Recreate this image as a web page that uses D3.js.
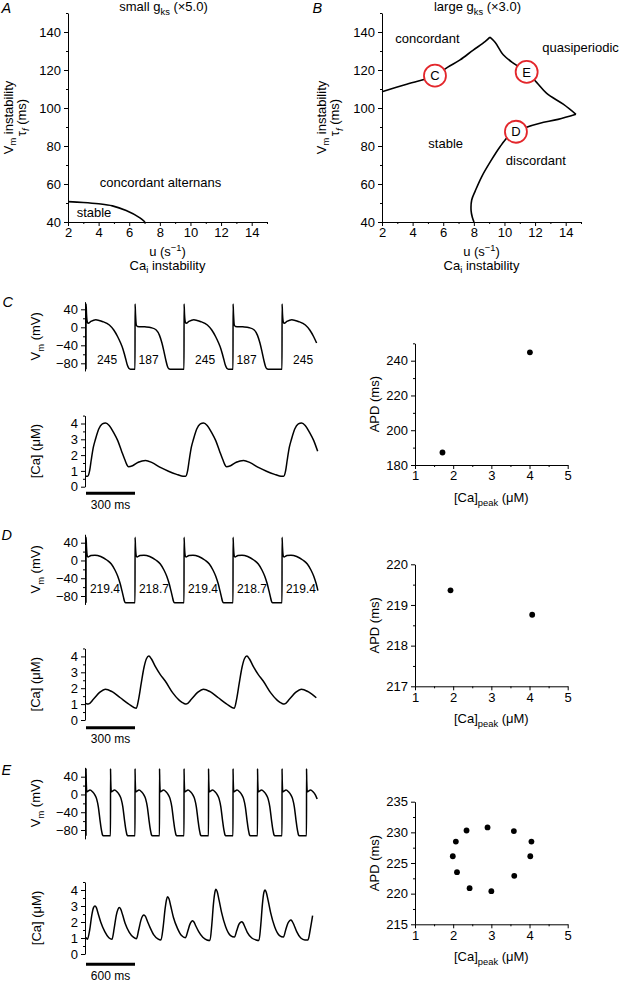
<!DOCTYPE html>
<html><head><meta charset="utf-8">
<script src="https://cdn.jsdelivr.net/npm/d3@7"></script>
<style>
body{margin:0;background:#fff}
svg text{font-family:"Liberation Sans",Arial,Helvetica,sans-serif;fill:#000}
</style>
</head><body>
<svg id="fig" width="625" height="982"></svg>
<script>
// ================= DATA =================
// Panels A and B: stability diagrams
const uTicks = [2,4,6,8,10,12,14];
const uMinor = [3,5,7,9,11,13,15];
const tauTicks = [40,60,80,100,120,140];
const tauMinor = [50,70,90,110,130,150];
const boundaryA = [[2,50.7],[3,50.3],[4,49.6],[4.9,48.5],[5.8,46],[6.7,42.2],[7.03,40]];
const boundaryB1 = [[2,108.6],[3.5,112.2],[5,115.6],[5.46,117],[6.3,121.5],[7.1,125.3],[7.96,130.5],[8.73,134.9],[9.05,137.3]];
const boundaryB2 = [[9.05,137.3],[9.4,134.5],[9.92,128],[10.6,123.5],[11.45,119],[12.1,113.5],[12.76,107.7],[13.84,102],[14.67,96.7]];
const boundaryB3 = [[14.67,96.7],[13.5,94],[12.32,92],[11.4,89.8],[10.75,87.5],[10.2,84.5],[9.71,79.6],[9.1,72],[8.51,63.8],[8.1,56.5],[7.86,51.6],[7.82,46],[7.9,42.5],[8.01,40]];
const markerIds = ["C","E","D"];
const markerU = [5.46,11.45,10.75];
const markerTau = [117,119,87.5];
const regionTextA = ["concordant alternans","stable"];
const regionTextB = ["concordant","quasiperiodic","stable","discordant"];

// Trace axes
const vmTicks = [40,0,-40,-80];
const vmMinor = [20,-20,-60];
const caTicks = [0,1,2,3,4];
const caMinor = [0.5,1.5,2.5,3.5,4.5];

// Action potential shapes: [ms after upstroke, mV]
const apLongC = [[0,-93],[0.5,52],[3,30],[8,12],[14,9],[30,13],[60,17],[100,13],[143,5],[170,-6],[194,-21],[212,-35],[225,-47],[237,-62],[245,-73],[253,-84],[262,-91],[272,-93]];
const apShortC = [[0,-93],[0.5,52],[3,30],[8,5],[15,2],[60,1],[100,-1],[130,-6],[150,-18],[165,-35],[178,-55],[190,-75],[198,-86],[206,-92],[215,-93]];
const apD = [[0,-95],[0.5,52],[3,30],[8,10],[14,8],[30,11],[55,12],[90,9],[127,1],[155,-8],[178,-22],[195,-36],[209,-52],[220,-68],[229,-82],[235,-91],[242,-95]];
const apE = [[0,-93],[0.5,58],[3,30],[10,6],[20,7],[49,10],[80,6],[110,-1.5],[130,-10],[151,-28],[171,-57],[185,-76],[192,-83],[202,-91],[212,-93]];

const beatStartsC = [0,300,600,900,1200];
const beatKindC = ["long","short","long","short","long"];
const apdLabelsC = ["245","187","245","187","245"];
const beatStartsD = [0,300,600,900,1200];
const apdLabelsD = ["219.4","218.7","219.4","218.7","219.4"];
const beatStartsE = [0,300,600,900,1200,1500,1800,2100,2400,2700];

// Calcium transients: [ms, uM]
const caCycleC = [[0,0.66],[10,0.66],[22,1.0],[32,1.69],[45,2.5],[58,3.0],[78,3.65],[100,3.97],[120,4.03],[142,3.88],[168,3.45],[195,2.9],[218,2.25],[238,1.7],[250,1.4],[260,1.26],[285,1.33],[320,1.55],[365,1.66],[405,1.52],[455,1.22],[505,0.98],[555,0.78],[585,0.68]];
const caCycleStartsC = [0,600,1200];
const caCycleD = [[0,1.04],[14,1.0],[45,1.3],[85,1.75],[118,1.94],[160,1.78],[210,1.4],[260,1.02],[308,0.74],[322,1.3],[338,2.3],[355,3.3],[370,3.85],[385,4.02],[400,3.85],[425,3.35],[455,2.85],[485,2.45],[530,1.72],[570,1.25],[590,1.1]];
const caCycleStartsD = [0,600,1200];
const caTraceE = [[0,1.04],[18,0.92],[45,1.5],[70,2.4],[92,2.9],[110,3.0],[128,2.88],[150,2.5],[180,2.0],[230,1.4],[280,1.02],
  [318,0.92],[345,1.6],[370,2.4],[392,2.8],[408,2.9],[425,2.8],[448,2.45],[480,1.9],[530,1.35],[580,1.05],
  [618,0.96],[645,1.5],[672,2.1],[694,2.38],[710,2.44],[728,2.35],[752,2.05],[785,1.65],[830,1.2],[880,0.95],
  [918,0.88],[945,1.7],[968,2.8],[986,3.4],[1000,3.58],[1016,3.45],[1040,2.95],[1070,2.3],[1120,1.6],[1170,1.15],
  [1218,1.02],[1245,1.4],[1272,1.85],[1292,2.03],[1306,2.08],[1322,2.0],[1345,1.75],[1380,1.4],[1430,1.05],[1480,0.88],
  [1518,0.85],[1540,1.8],[1560,3.1],[1578,3.85],[1591,4.04],[1606,3.9],[1630,3.35],[1660,2.6],[1710,1.7],[1770,1.15],
  [1818,1.06],[1845,1.45],[1872,1.85],[1892,1.98],[1906,2.02],[1922,1.95],[1945,1.7],[1975,1.35],[2030,1.0],[2080,0.88],
  [2118,0.85],[2140,1.8],[2160,3.1],[2178,3.85],[2191,4.0],[2206,3.88],[2230,3.35],[2260,2.6],[2310,1.7],[2370,1.15],
  [2418,1.06],[2445,1.5],[2472,1.92],[2493,2.08],[2509,2.12],[2525,2.04],[2548,1.8],[2580,1.4],[2630,1.0],[2680,0.88],
  [2718,0.88],[2745,1.5],[2775,2.4]];

const scaleBarMs = [300,300,600];

// Scatter panels
const caPeakTicks = [1,2,3,4,5];
const caPeakMinor = [1.5,2.5,3.5,4.5];
const apdTicksC = [180,200,220,240], apdMinorC = [190,210,230,250];
const apdTicksD = [217,218,219,220], apdMinorD = [217.5,218.5,219.5];
const apdTicksE = [215,220,225,230,235], apdMinorE = [217.5,222.5,227.5,232.5];
const scatterCaC = [4.01,1.72], scatterApdC = [244.8,187.2];
const scatterCaD = [1.93,4.07], scatterApdD = [219.36,218.76];
const scatterCaE = [2.35,2.90,3.59,4.05,4.02,3.60,3.00,2.43,2.10,1.99,2.07];
const scatterApdE = [230.3,230.8,230.2,228.5,226.1,222.9,220.4,220.9,223.5,226.1,228.5];

// ================= DRAWING =================
const svg = d3.select("#fig");
const FS = 13;

function rich(x, y, parts, o = {}) {
  const size = o.size || 12.5;
  const t = svg.append("text").attr("x", x).attr("y", y)
    .attr("font-size", size).attr("text-anchor", o.anchor || "middle");
  if (o.rotate) t.attr("transform", `rotate(-90,${x},${y})`);
  if (o.italic) t.attr("font-style", "italic");
  let cur = 0;
  parts.forEach(p => {
    const target = p.sub ? 3.5 : (p.sup ? -5 : 0);
    const s = t.append("tspan").attr("dy", target - cur).text(p.t);
    if (p.sub || p.sup) s.attr("font-size", size * 0.72);
    if (p.it) s.attr("font-style", "italic");
    cur = target;
  });
  return t;
}

function styleAxis(g) {
  g.attr("font-size", FS).attr("font-family", '"Liberation Sans",Arial,sans-serif');
  g.selectAll("path,line").attr("stroke", "#000").attr("stroke-width", 1);
  g.selectAll("text").attr("fill", "#000");
}

function yAxis(x, scale, lo, hi, major, minor, fmt) {
  const s = scale.copy().domain([lo, hi]).range([scale(lo), scale(hi)]);
  const g = svg.append("g").attr("transform", `translate(${x},0)`);
  g.call(d3.axisLeft(s).tickValues(major).tickSize(4).tickSizeOuter(0).tickPadding(3).tickFormat(fmt || d3.format("")));
  const m = g.append("g").call(d3.axisLeft(s).tickValues(minor).tickSize(2).tickSizeOuter(0).tickFormat(""));
  m.select(".domain").remove();
  styleAxis(g);
  return g;
}
function xAxis(y, scale, lo, hi, major, minor, fmt) {
  const s = scale.copy().domain([lo, hi]).range([scale(lo), scale(hi)]);
  const g = svg.append("g").attr("transform", `translate(0,${y})`);
  g.call(d3.axisBottom(s).tickValues(major).tickSize(4).tickSizeOuter(0).tickPadding(2).tickFormat(fmt || d3.format("")));
  const m = g.append("g").call(d3.axisBottom(s).tickValues(minor).tickSize(2).tickSizeOuter(0).tickFormat(""));
  m.select(".domain").remove();
  styleAxis(g);
  return g;
}

function panelLetter(x, y, L) {
  svg.append("text").attr("x", x).attr("y", y).attr("font-size", 14.5)
    .attr("font-style", "italic").text(L);
}

// ---------- Panels A & B ----------
const yT = d3.scaleLinear([40, 150], [222, 13]);
const xA = d3.scaleLinear([2, 15], [68, 267]);
const xB = d3.scaleLinear([2, 15], [382, 581]);

function phasePanel(xs, lblX1, lblX2, letterX, L, titleParts) {
  yAxis(xs(2), yT, 40, 150, tauTicks, tauMinor);
  xAxis(yT(40), xs, 2, 15, uTicks, uMinor);
  panelLetter(letterX, 13.3, L);
  const cx = (xs(2) + xs(15)) / 2;
  rich(cx - 4, 11, titleParts, {size: 13});
  rich(cx, 256, [{t: "u (s"}, {t: "−1", sup: true}, {t: ")"}], {size: 13});
  rich(cx, 269.5, [{t: "Ca"}, {t: "i", sub: true}, {t: " instability"}], {size: 13});
  const cy = (yT(40) + yT(150)) / 2;
  rich(lblX1, cy, [{t: "V"}, {t: "m", sub: true}, {t: " instability"}], {size: 13, rotate: true});
  rich(lblX2, cy, [{t: "τ"}, {t: "f", sub: true, it: true}, {t: " (ms)"}], {size: 13, rotate: true});
}

phasePanel(xA, 12.5, 25.5, 1.5, "A", [{t: "small g"}, {t: "ks", sub: true}, {t: " (×5.0)"}]);
phasePanel(xB, 325.8, 339, 312.5, "B", [{t: "large g"}, {t: "ks", sub: true}, {t: " (×3.0)"}]);

const lineA = d3.line().x(d => xA(d[0])).y(d => yT(d[1])).curve(d3.curveCatmullRom);
const lineB = d3.line().x(d => xB(d[0])).y(d => yT(d[1])).curve(d3.curveCatmullRom);
svg.append("path").attr("d", lineA(boundaryA)).attr("fill", "none").attr("stroke", "#000").attr("stroke-width", 1.6);
[boundaryB1, boundaryB2, boundaryB3].forEach(b =>
  svg.append("path").attr("d", lineB(b)).attr("fill", "none").attr("stroke", "#000").attr("stroke-width", 1.6));

// region labels
svg.append("text").attr("x", xA(8.04)).attr("y", yT(58.6)).attr("text-anchor", "middle").attr("font-size", 13).text(regionTextA[0]);
svg.append("text").attr("x", xA(3.7)).attr("y", yT(42.8)).attr("text-anchor", "middle").attr("font-size", 13).text(regionTextA[1]);
const posB = [[4.97, 134], [14.97, 129.3], [6.16, 78.8], [12.05, 70]];
regionTextB.forEach((t, i) => svg.append("text").attr("x", xB(posB[i][0])).attr("y", yT(posB[i][1]))
  .attr("text-anchor", "middle").attr("font-size", 13).text(t));

markerIds.forEach((id, i) => {
  const g = svg.append("g").attr("transform", `translate(${xB(markerU[i])},${yT(markerTau[i])})`);
  g.append("circle").attr("r", 11).attr("fill", "#fff").attr("stroke", "#e3262b").attr("stroke-width", 1.8);
  g.append("text").attr("y", 4.6).attr("text-anchor", "middle").attr("font-size", 13).text(id);
});

// ---------- Trace panels ----------
function buildBeats(starts, tpls, tEnd) {
  const pts = [];
  starts.forEach((t0, i) => {
    const next = i + 1 < starts.length ? starts[i + 1] : Infinity;
    tpls[i].forEach(([t, v]) => { const tt = t0 + t; if (tt < next && tt <= tEnd) pts.push([tt, v]); });
  });
  return pts;
}

const endX = 318;
function tracePanel(cfg) {
  const tS = d3.scaleLinear([0, cfg.barMs], [86, 135]);
  const tEnd = tS.invert(endX);
  // Vm
  yAxis(85, cfg.yVm, cfg.vmLo, cfg.vmHi, vmTicks, vmMinor);
  const vmPts = buildBeats(cfg.starts, cfg.tpls, tEnd);
  svg.append("path").attr("d", d3.line().x(d => tS(d[0])).y(d => cfg.yVm(d[1])).curve(d3.curveMonotoneX)(vmPts))
    .attr("fill", "none").attr("stroke", "#000").attr("stroke-width", 1.5);
  rich(40.5, (cfg.yVm(cfg.vmLo) + cfg.yVm(cfg.vmHi)) / 2, [{t: "V"}, {t: "m", sub: true}, {t: " (mV)"}], {size: 13, rotate: true});
  if (cfg.labels) cfg.labels.forEach((l, i) => {
    const x = tS(cfg.starts[i] + cfg.labelOff[i]);
    if (x < 312) svg.append("text").attr("x", x).attr("y", cfg.yVm(cfg.labelV)).attr("text-anchor", "middle").attr("font-size", 12).text(l);
  });
  // Ca
  yAxis(85, cfg.yCa, 0, 4.5, caTicks, caMinor);
  const caPts = cfg.caPts.filter(d => d[0] <= tEnd);
  svg.append("path").attr("d", d3.line().x(d => tS(d[0])).y(d => cfg.yCa(d[1])).curve(d3.curveMonotoneX)(caPts))
    .attr("fill", "none").attr("stroke", "#000").attr("stroke-width", 1.5);
  rich(40.5, (cfg.yCa(0) + cfg.yCa(4.5)) / 2, [{t: "[Ca] (μM)"}], {size: 13, rotate: true});
  // scale bar
  svg.append("line").attr("x1", tS(0)).attr("x2", tS(cfg.barMs)).attr("y1", cfg.barY).attr("y2", cfg.barY)
    .attr("stroke", "#000").attr("stroke-width", 3);
  svg.append("text").attr("x", (tS(0) + tS(cfg.barMs)) / 2).attr("y", cfg.barY + 15.5).attr("text-anchor", "middle")
    .attr("font-size", 12).text(cfg.barMs + " ms");
}

function cycles(starts, cyc) {
  const pts = [];
  starts.forEach(t0 => cyc.forEach(([t, v]) => pts.push([t0 + t, v])));
  return pts;
}

tracePanel({
  barMs: scaleBarMs[0], starts: beatStartsC,
  tpls: beatKindC.map(k => k === "long" ? apLongC : apShortC),
  yVm: d3.scaleLinear([-80, 40], [363.3, 309.3]), vmLo: -97, vmHi: 57,
  labels: apdLabelsC, labelOff: beatKindC.map(k => k === "long" ? 129 : 83), labelV: -81.5,
  yCa: d3.scaleLinear([0, 4], [486.7, 423.5]), caPts: cycles(caCycleStartsC, caCycleC), barY: 493.3
});
tracePanel({
  barMs: scaleBarMs[1], starts: beatStartsD,
  tpls: beatStartsD.map(() => apD),
  yVm: d3.scaleLinear([-80, 40], [596, 542.7]), vmLo: -99, vmHi: 59,
  labels: apdLabelsD, labelOff: beatStartsD.map(() => 116), labelV: -73,
  yCa: d3.scaleLinear([0, 4], [720, 656.4]), caPts: cycles(caCycleStartsD, caCycleD), barY: 727.7
});
tracePanel({
  barMs: scaleBarMs[2], starts: beatStartsE,
  tpls: beatStartsE.map(() => apE),
  yVm: d3.scaleLinear([-80, 40], [830, 776.7]), vmLo: -100, vmHi: 61,
  labels: null,
  yCa: d3.scaleLinear([0, 4], [954, 890]), caPts: caTraceE, barY: 964.3
});

panelLetter(2.5, 306.5, "C");
panelLetter(1.5, 540, "D");
panelLetter(1.5, 775, "E");

// ---------- Scatter panels ----------
const xS = d3.scaleLinear([1, 5], [415, 567.7]);
function scatterPanel(yS, lo, hi, ticks, minor, ca, apd) {
  yAxis(415, yS, lo, hi, ticks, minor);
  xAxis(yS(lo), xS, 1, 5, caPeakTicks, caPeakMinor);
  svg.append("g").selectAll("circle").data(ca).join("circle")
    .attr("cx", d => xS(d)).attr("cy", (d, i) => yS(apd[i])).attr("r", 2.9).attr("fill", "#000");
  rich(379, (yS(lo) + yS(hi)) / 2, [{t: "APD (ms)"}], {size: 13, rotate: true});
  rich((xS(1) + xS(5)) / 2, yS(lo) + 37, [{t: "[Ca]"}, {t: "peak", sub: true}, {t: " (μM)"}], {size: 13});
}
scatterPanel(d3.scaleLinear([180, 240], [465, 360.7]), 180, 250, apdTicksC, apdMinorC, scatterCaC, scatterApdC);
scatterPanel(d3.scaleLinear([217, 220], [686.3, 564.3]), 217, 220, apdTicksD, apdMinorD, scatterCaD, scatterApdD);
scatterPanel(d3.scaleLinear([215, 235], [924.3, 801.7]), 215, 235, apdTicksE, apdMinorE, scatterCaE, scatterApdE);
</script>
</body></html>
